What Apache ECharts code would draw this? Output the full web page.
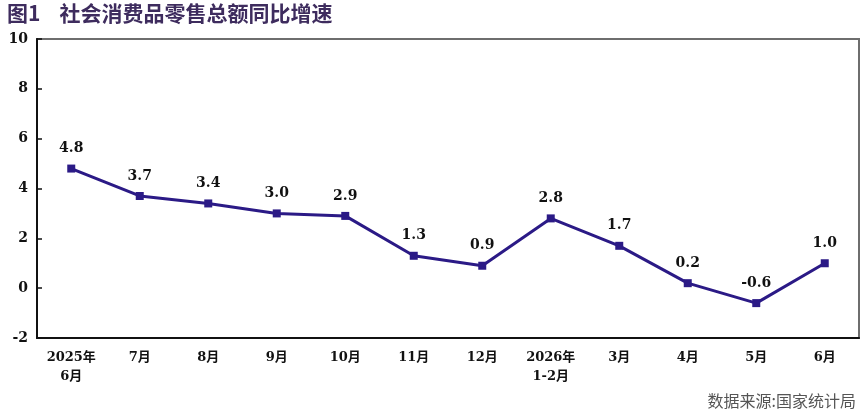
<!DOCTYPE html>
<html>
<head>
<meta charset="utf-8">
<script src="https://cdn.jsdelivr.net/npm/echarts@6/dist/echarts.min.js"></script>
<style>
  html, body { margin: 0; padding: 0; background: #fff; }
  #chart { width: 865px; height: 415px; }
</style>
</head>
<body>
<div id="chart"></div>
<script>
  // 月份
  var months = ['2025年\n6月', '7月', '8月', '9月', '10月', '11月', '12月', '2026年\n1-2月', '3月', '4月', '5月', '6月'];
  // 社会消费品零售总额同比增速（%）
  var growth = [4.8, 3.7, 3.4, 3.0, 2.9, 1.3, 0.9, 2.8, 1.7, 0.2, -0.6, 1.0];
  var yTicks = [-2, 0, 2, 4, 6, 8, 10];

  var serif = '"DejaVu Serif", "Noto Sans CJK SC", serif';

  var chart = echarts.init(document.getElementById('chart'));
  chart.setOption({
    animation: false,
    backgroundColor: '#ffffff',
    title: [{
      text: '图1    社会消费品零售总额同比增速',
      left: 2,
      top: -2,
      textStyle: {
        fontFamily: '"Noto Sans CJK SC", sans-serif',
        fontSize: 21,
        fontWeight: 'bold',
        color: '#3e2c5e'
      }
    }, {
      text: '数据来源:国家统计局',
      right: 4,
      top: 388,
      textStyle: {
        fontFamily: '"Noto Sans CJK SC", sans-serif',
        fontSize: 16,
        fontWeight: 'normal',
        color: '#555555'
      }
    }],
    grid: {
      left: 37,
      right: 6,
      top: 39,
      bottom: 77,
      show: true,
      borderColor: '#6e6e6e',
      borderWidth: 2
    },
    xAxis: {
      type: 'category',
      data: months,
      boundaryGap: true,
      axisLine: { onZero: false, lineStyle: { color: '#111', width: 2 } },
      axisTick: { show: false },
      axisLabel: {
        interval: 0,
        margin: 10,
        color: '#111',
        fontFamily: serif,
        fontWeight: 'bold',
        fontSize: 13,
        lineHeight: 19
      }
    },
    yAxis: {
      type: 'value',
      min: yTicks[0],
      max: yTicks[yTicks.length - 1],
      interval: 2,
      splitLine: { show: false },
      axisLine: { show: true, lineStyle: { color: '#111', width: 2 } },
      axisTick: { show: true, inside: true, length: 5, lineStyle: { color: '#111', width: 1.5 } },
      axisLabel: {
        margin: 9,
        color: '#111',
        fontFamily: serif,
        fontWeight: 'bold',
        fontSize: 14
      }
    },
    series: [{
      type: 'line',
      data: growth,
      symbol: 'rect',
      symbolSize: 8,
      lineStyle: { color: '#2b1a86', width: 3 },
      itemStyle: { color: '#2b1a86' },
      label: {
        show: true,
        position: 'top',
        distance: 9,
        color: '#111',
        fontFamily: serif,
        fontWeight: 'bold',
        fontSize: 14,
        formatter: function (p) { return p.value.toFixed(1); }
      }
    }]
  });
</script>
</body>
</html>
